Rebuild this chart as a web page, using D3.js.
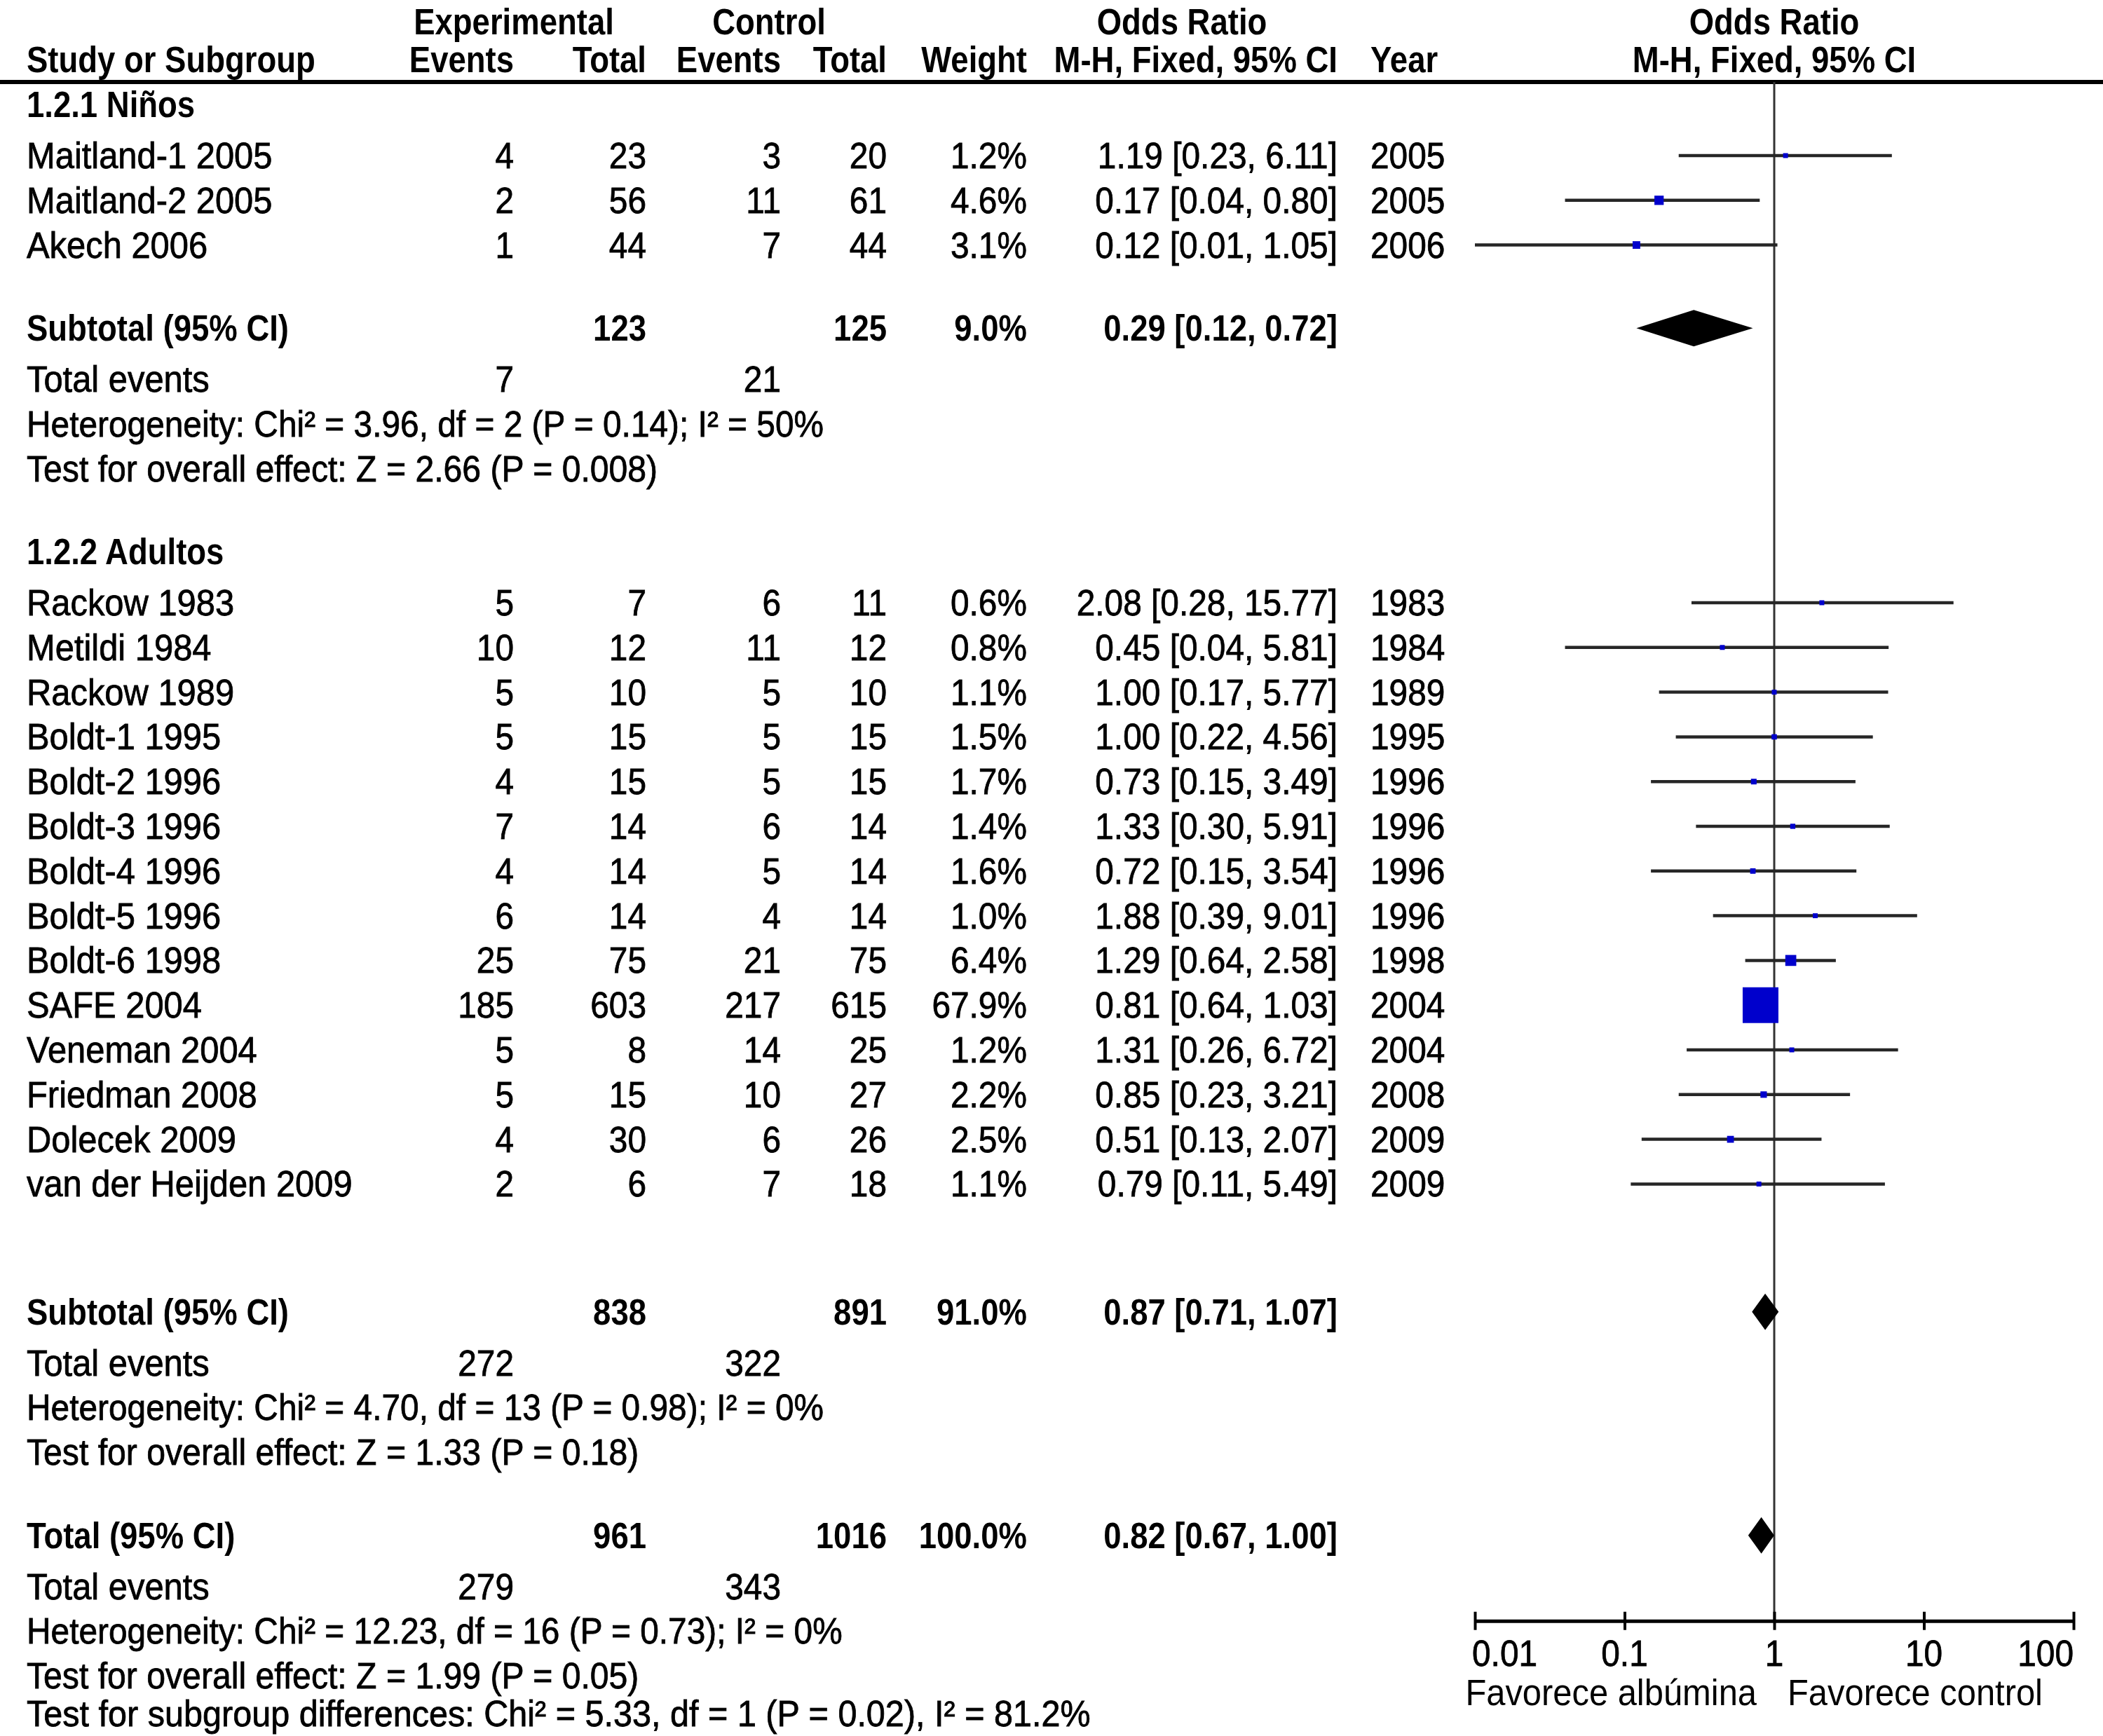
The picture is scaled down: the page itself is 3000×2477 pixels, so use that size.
<!DOCTYPE html>
<html lang="en">
<head>
<meta charset="UTF-8">
<title>Forest plot - Albúmina vs control</title>
<script src="https://d3js.org/d3.v7.min.js"></script>
<style>
    body { margin: 0; background: #fff; }
    svg text { font-family: "Liberation Sans", Arial, sans-serif; fill: #000; }
</style>
</head>
<body>
<div id="chart"></div>
<script>
// ---- data ----
var groupLabels = ["1.2.1 Niños", "1.2.2 Adultos"];

var studyNames = ["Maitland-1 2005", "Maitland-2 2005", "Akech 2006",
    "Rackow 1983", "Metildi 1984", "Rackow 1989", "Boldt-1 1995", "Boldt-2 1996",
    "Boldt-3 1996", "Boldt-4 1996", "Boldt-5 1996", "Boldt-6 1998", "SAFE 2004",
    "Veneman 2004", "Friedman 2008", "Dolecek 2009", "van der Heijden 2009"];
var studyGroup = [0, 0, 0, 1, 1, 1, 1, 1, 1, 1, 1, 1, 1, 1, 1, 1, 1];
var expEvents = [4, 2, 1, 5, 10, 5, 5, 4, 7, 4, 6, 25, 185, 5, 5, 4, 2];
var expTotal = [23, 56, 44, 7, 12, 10, 15, 15, 14, 14, 14, 75, 603, 8, 15, 30, 6];
var ctlEvents = [3, 11, 7, 6, 11, 5, 5, 5, 6, 5, 4, 21, 217, 14, 10, 6, 7];
var ctlTotal = [20, 61, 44, 11, 12, 10, 15, 15, 14, 14, 14, 75, 615, 25, 27, 26, 18];
var weights = [1.2, 4.6, 3.1, 0.6, 0.8, 1.1, 1.5, 1.7, 1.4, 1.6, 1.0, 6.4, 67.9, 1.2, 2.2, 2.5, 1.1];
var oddsRatio = [1.19, 0.17, 0.12, 2.08, 0.45, 1.00, 1.00, 0.73, 1.33, 0.72, 1.88, 1.29, 0.81, 1.31, 0.85, 0.51, 0.79];
var ciLow = [0.23, 0.04, 0.01, 0.28, 0.04, 0.17, 0.22, 0.15, 0.30, 0.15, 0.39, 0.64, 0.64, 0.26, 0.23, 0.13, 0.11];
var ciHigh = [6.11, 0.80, 1.05, 15.77, 5.81, 5.77, 4.56, 3.49, 5.91, 3.54, 9.01, 2.58, 1.03, 6.72, 3.21, 2.07, 5.49];
var years = [2005, 2005, 2006, 1983, 1984, 1989, 1995, 1996, 1996, 1996, 1996, 1998, 2004, 2004, 2008, 2009, 2009];

// subgroup summaries
var subExpTotal = [123, 838];
var subCtlTotal = [125, 891];
var subWeight = [9.0, 91.0];
var subOR = [0.29, 0.87];
var subLow = [0.12, 0.71];
var subHigh = [0.72, 1.07];
var subExpEvents = [7, 272];
var subCtlEvents = [21, 322];
var subHet = ["Heterogeneity: Chi² = 3.96, df = 2 (P = 0.14); I² = 50%",
              "Heterogeneity: Chi² = 4.70, df = 13 (P = 0.98); I² = 0%"];
var subTest = ["Test for overall effect: Z = 2.66 (P = 0.008)",
               "Test for overall effect: Z = 1.33 (P = 0.18)"];

// overall
var totExpTotal = 961, totCtlTotal = 1016, totWeight = 100.0;
var totOR = 0.82, totLow = 0.67, totHigh = 1.00;
var totExpEvents = 279, totCtlEvents = 343;
var totHet = "Heterogeneity: Chi² = 12.23, df = 16 (P = 0.73); I² = 0%";
var totTest = "Test for overall effect: Z = 1.99 (P = 0.05)";
var totSubgroup = "Test for subgroup differences: Chi² = 5.33, df = 1 (P = 0.02), I² = 81.2%";

var axisTicks = [0.01, 0.1, 1, 10, 100];
var axisLabels = ["0.01", "0.1", "1", "10", "100"];
var favourLeft = "Favorece albúmina", favourRight = "Favorece control";

// ---- layout ----
var W = 3000, H = 2477;
var col = { study: 38, expE: 733, expT: 922, ctlE: 1114, ctlT: 1265, wt: 1465, ci: 1908, year: 1955 };
var fmt2 = d3.format(".2f"), fmt1 = d3.format(".1f");

var svg = d3.select("#chart").append("svg")
    .attr("width", W).attr("height", H);
svg.append("rect").attr("width", W).attr("height", H).attr("fill", "#fff");

// row slot -> vertical centre
var yRow = d3.scaleLinear().domain([0, 1]).range([222, 285.8]);
var boldShift = -9;
function rowY(slot, bold) { return yRow(slot) + (bold ? boldShift : 0); }

// odds ratio scale
var x = d3.scaleLog().domain([0.01, 100]).range([2104, 2958]);

// text helper (source font is a condensed, heavy sans)
function put(px, slot, str, anchor, bold, sx) {
    var y = rowY(slot, bold) + 18 + (slot < -2.5 ? 9 : 0) + (slot > 34.5 ? -10 : 0);
    var t = svg.append("text")
        .attr("transform", "translate(" + px + "," + y + ") scale(" + (sx || (bold ? 0.875 : 0.94)) + ",1)")
        .attr("text-anchor", anchor)
        .style("font-size", "52px")
        .style("font-weight", bold ? "bold" : "normal")
        .text(str);
    if (!bold) t.attr("stroke", "#000").attr("stroke-width", 0.8);
}

// headers
put(733, -3, "Experimental", "middle", true);
put(1097, -3, "Control", "middle", true);
put(1686, -3, "Odds Ratio", "middle", true);
put(x(1), -3, "Odds Ratio", "middle", true);
put(col.study, -2, "Study or Subgroup", "start", true);
put(col.expE, -2, "Events", "end", true);
put(col.expT, -2, "Total", "end", true);
put(col.ctlE, -2, "Events", "end", true);
put(col.ctlT, -2, "Total", "end", true);
put(col.wt, -2, "Weight", "end", true);
put(col.ci, -2, "M-H, Fixed, 95% CI", "end", true);
put(col.year, -2, "Year", "start", true);
put(x(1), -2, "M-H, Fixed, 95% CI", "middle", true);

svg.append("line")
    .attr("x1", 0).attr("x2", W)
    .attr("y1", 117).attr("y2", 117)
    .attr("stroke", "#000").attr("stroke-width", 6);

// assign row slots
var groupStart = [-1, 9];
var studySlot = [];
var counters = [0, 0];
studyNames.forEach(function (n, i) {
    var g = studyGroup[i];
    studySlot.push(groupStart[g] + 1 + counters[g]);
    counters[g]++;
});
var subSlot = [4, 26];
var totSlot = 31;

var axisY = rowY(32.77);

// reference line at OR = 1
svg.append("line")
    .attr("x1", x(1)).attr("x2", x(1))
    .attr("y1", 117).attr("y2", axisY)
    .attr("stroke", "#333").attr("stroke-width", 3);

// study rows text
studyNames.forEach(function (n, i) {
    var s = studySlot[i];
    put(col.study, s, n, "start", false);
    put(col.expE, s, expEvents[i], "end", false, 0.92);
    put(col.expT, s, expTotal[i], "end", false, 0.92);
    put(col.ctlE, s, ctlEvents[i], "end", false, 0.92);
    put(col.ctlT, s, ctlTotal[i], "end", false, 0.92);
    put(col.wt, s, fmt1(weights[i]) + "%", "end", false, 0.92);
    put(col.ci, s, fmt2(oddsRatio[i]) + " [" + fmt2(ciLow[i]) + ", " + fmt2(ciHigh[i]) + "]", "end", false, 0.92);
    put(col.year, s, years[i], "start", false, 0.92);
});

// subgroup blocks
groupLabels.forEach(function (g, k) {
    put(col.study, groupStart[k], g, "start", true);
    var s = subSlot[k];
    put(col.study, s, "Subtotal (95% CI)", "start", true);
    put(col.expT, s, subExpTotal[k], "end", true);
    put(col.ctlT, s, subCtlTotal[k], "end", true);
    put(col.wt, s, fmt1(subWeight[k]) + "%", "end", true);
    put(col.ci, s, fmt2(subOR[k]) + " [" + fmt2(subLow[k]) + ", " + fmt2(subHigh[k]) + "]", "end", true);
    put(col.study, s + 1, "Total events", "start", false);
    put(col.expE, s + 1, subExpEvents[k], "end", false, 0.92);
    put(col.ctlE, s + 1, subCtlEvents[k], "end", false, 0.92);
    put(col.study, s + 2, subHet[k], "start", false, 0.92);
    put(col.study, s + 3, subTest[k], "start", false, 0.926);
});

// overall block
put(col.study, totSlot, "Total (95% CI)", "start", true);
put(col.expT, totSlot, totExpTotal, "end", true);
put(col.ctlT, totSlot, totCtlTotal, "end", true);
put(col.wt, totSlot, fmt1(totWeight) + "%", "end", true);
put(col.ci, totSlot, fmt2(totOR) + " [" + fmt2(totLow) + ", " + fmt2(totHigh) + "]", "end", true);
put(col.study, totSlot + 1, "Total events", "start", false);
put(col.expE, totSlot + 1, totExpEvents, "end", false, 0.92);
put(col.ctlE, totSlot + 1, totCtlEvents, "end", false, 0.92);
put(col.study, totSlot + 2, totHet, "start", false, 0.92);
put(col.study, totSlot + 3, totTest, "start", false, 0.926);
put(col.study, totSlot + 4, totSubgroup, "start", false, 0.934);

// confidence interval lines
var idx = d3.range(studyNames.length);
svg.append("g").selectAll("line")
    .data(idx).enter().append("line")
    .attr("x1", function (i) { return x(ciLow[i]); })
    .attr("x2", function (i) { return x(ciHigh[i]); })
    .attr("y1", function (i) { return rowY(studySlot[i]); })
    .attr("y2", function (i) { return rowY(studySlot[i]); })
    .attr("stroke", "#262626").attr("stroke-width", 4.5);

// weight squares
function side(i) { return Math.max(7, 51 * Math.sqrt(weights[i] / 67.9)); }
svg.append("g").selectAll("rect")
    .data(idx).enter().append("rect")
    .attr("x", function (i) { return x(oddsRatio[i]) - side(i) / 2; })
    .attr("y", function (i) { return rowY(studySlot[i]) - side(i) / 2; })
    .attr("width", side).attr("height", side)
    .attr("fill", "#0000cc");

// diamonds
var diamonds = [
    { or: subOR[0], lo: subLow[0], hi: subHigh[0], y: rowY(subSlot[0], true) },
    { or: subOR[1], lo: subLow[1], hi: subHigh[1], y: rowY(subSlot[1], true) },
    { or: totOR, lo: totLow, hi: totHigh, y: rowY(totSlot, true) }
];
var dh = 26;
svg.append("g").selectAll("path")
    .data(diamonds).enter().append("path")
    .attr("d", function (d) {
        return "M" + x(d.lo) + "," + d.y + "L" + x(d.or) + "," + (d.y - dh) +
            "L" + x(d.hi) + "," + d.y + "L" + x(d.or) + "," + (d.y + dh) + "Z";
    })
    .attr("fill", "#000");

// bottom axis
var axisG = svg.append("g")
    .attr("transform", "translate(0," + axisY + ")")
    .call(d3.axisBottom(x).tickValues(axisTicks).tickSizeOuter(0).tickSizeInner(12).tickFormat(""));
axisG.select(".domain").attr("stroke", "#000").attr("stroke-width", 5);
axisG.selectAll(".tick line").attr("y1", -13).attr("y2", 13).attr("stroke", "#000").attr("stroke-width", 4);

axisTicks.forEach(function (t, i) {
    var anchor = i === 0 ? "start" : (i === axisTicks.length - 1 ? "end" : "middle");
    svg.append("text")
        .attr("transform", "translate(" + (x(t) + (i === 0 ? -4 : 0)) + "," + (axisY + 64) + ") scale(0.92,1)")
        .attr("text-anchor", anchor)
        .attr("stroke", "#000").attr("stroke-width", 0.8)
        .style("font-size", "52px")
        .text(axisLabels[i]);
});

svg.append("text")
    .attr("transform", "translate(" + (x(1) - 25) + "," + (axisY + 120) + ") scale(0.94,1)")
    .attr("text-anchor", "end")
    .style("font-size", "52px")
    .text(favourLeft);
svg.append("text")
    .attr("transform", "translate(" + (x(1) + 19) + "," + (axisY + 120) + ") scale(0.94,1)")
    .attr("text-anchor", "start")
    .style("font-size", "52px")
    .text(favourRight);
</script>
</body>
</html>
